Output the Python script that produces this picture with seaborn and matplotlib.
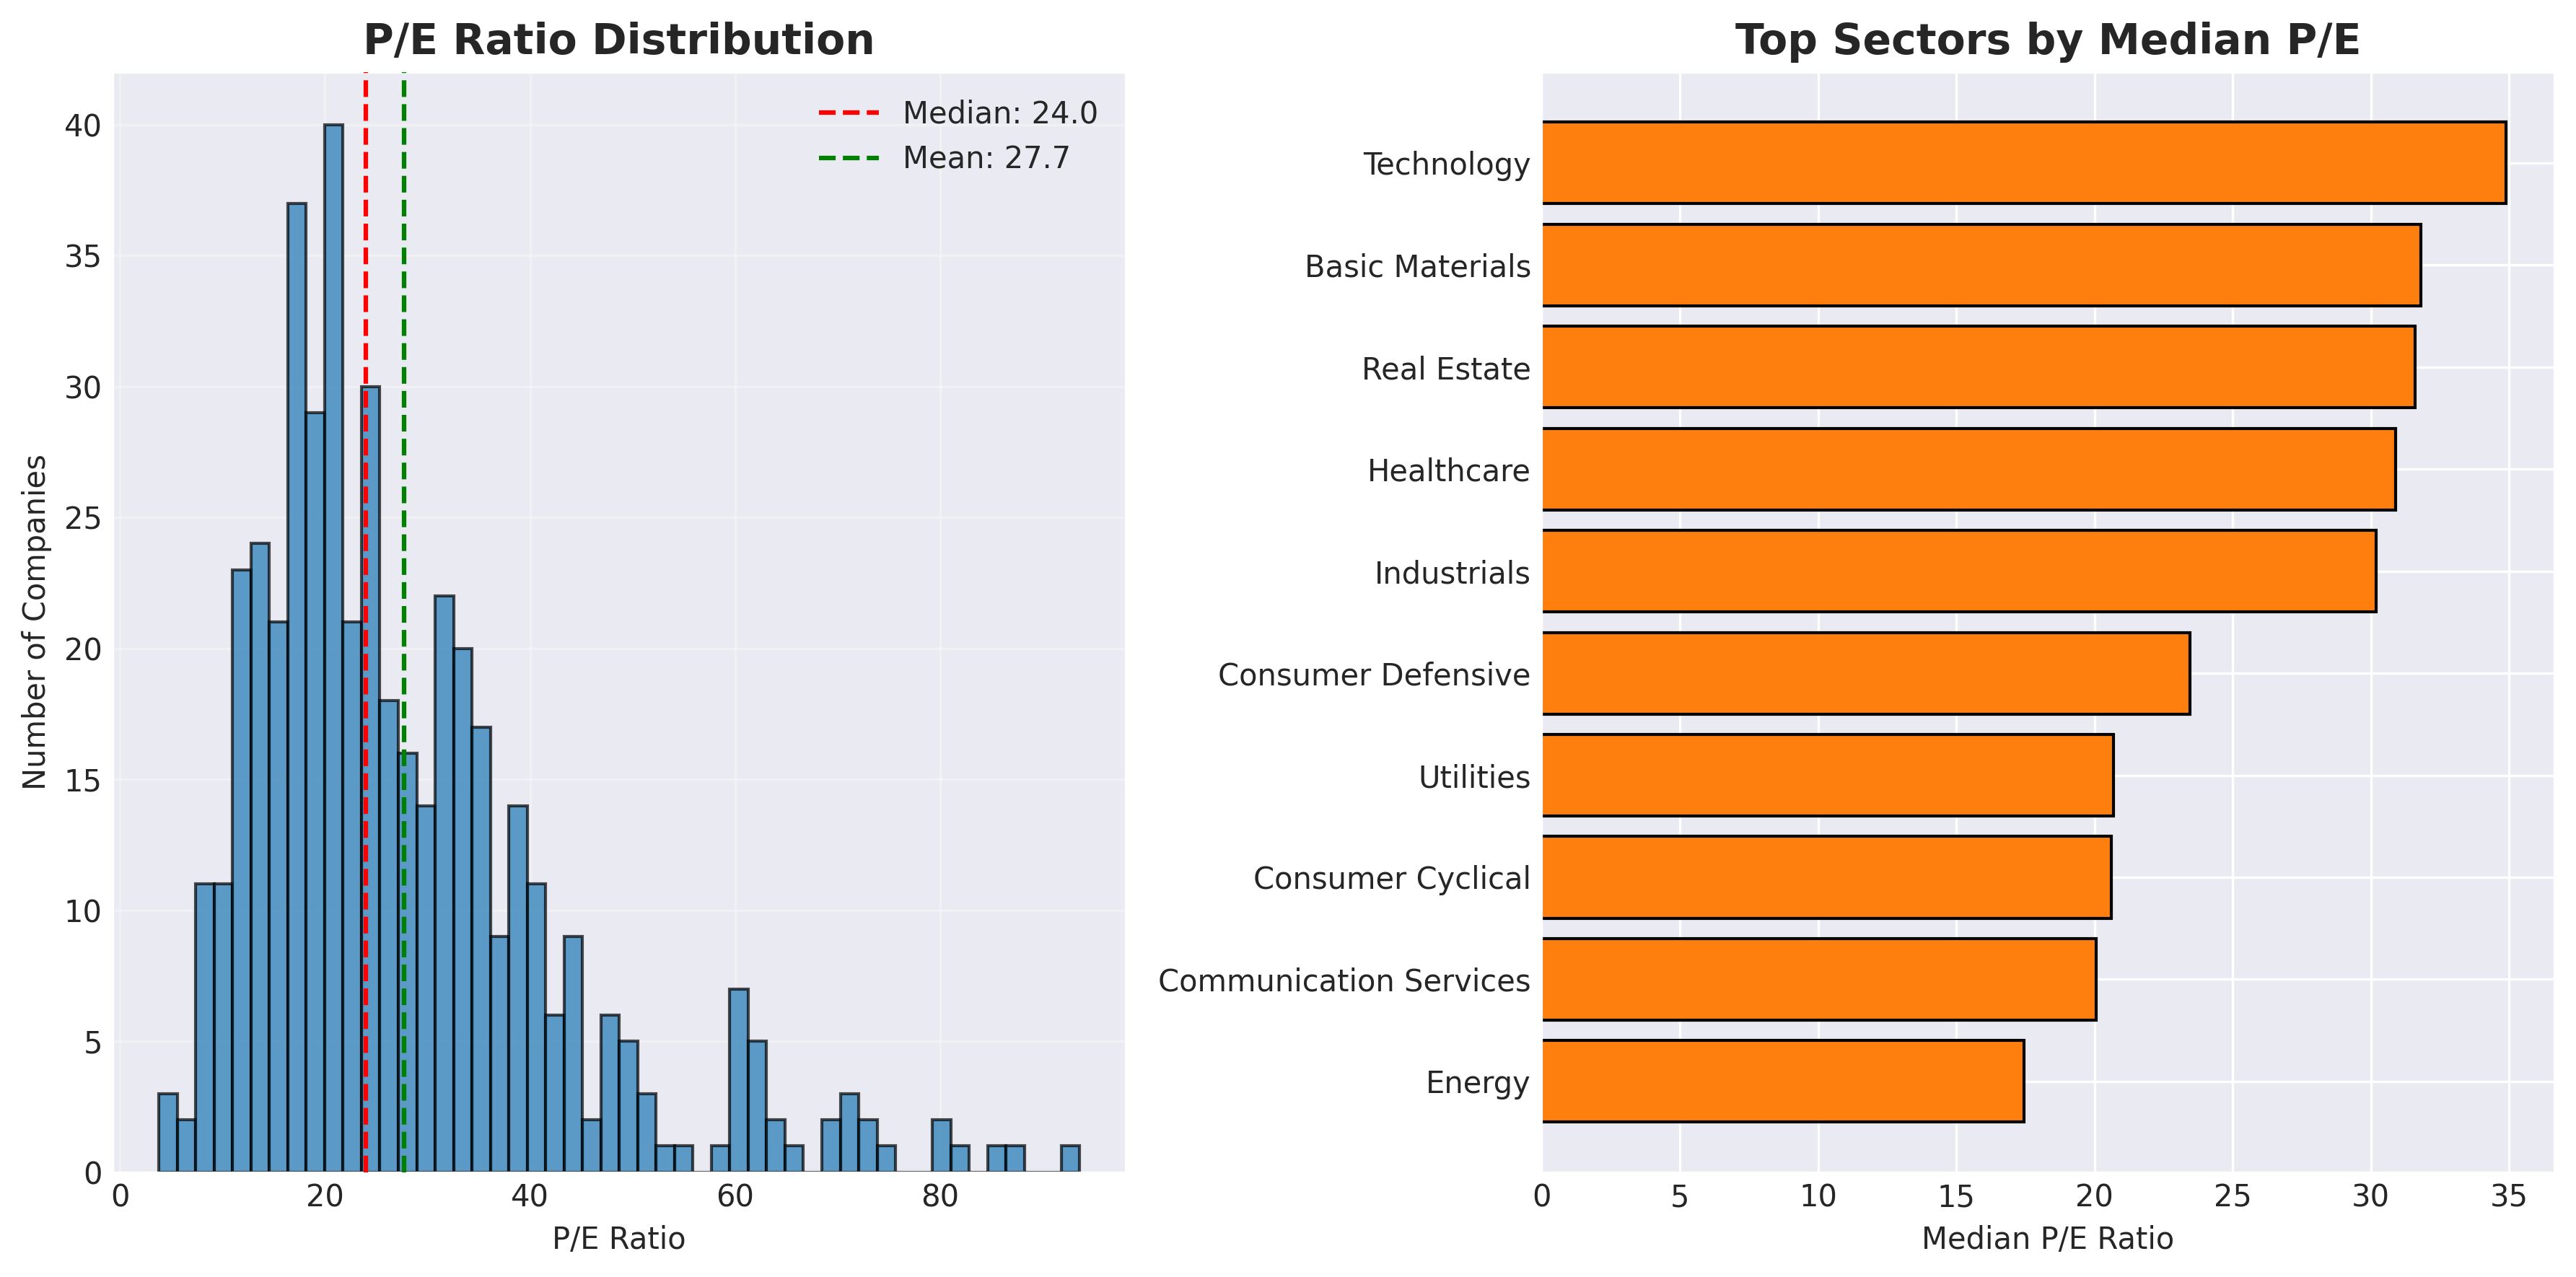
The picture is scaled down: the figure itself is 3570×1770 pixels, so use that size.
import numpy as np
import pandas as pd
import matplotlib
matplotlib.use("Agg")
import matplotlib.pyplot as plt
import seaborn as sns

# histogram of P/E ratios, counts read per bin (50 bins)
pe_min = 3.8
pe_max = 93.6
pe_counts = [3, 2, 11, 11, 23, 24, 21, 37, 29, 40,
             21, 30, 18, 16, 14, 22, 20, 17, 9, 14,
             11, 6, 9, 2, 6, 5, 3, 1, 1, 0,
             1, 7, 5, 2, 1, 0, 2, 3, 2, 1,
             0, 0, 2, 1, 0, 1, 1, 0, 0, 1]
pe_median = 24.0
pe_mean = 27.7

sectors = ["Technology", "Basic Materials", "Real Estate", "Healthcare",
           "Industrials", "Consumer Defensive", "Utilities",
           "Consumer Cyclical", "Communication Services", "Energy"]
sector_median_pe = [34.9, 31.8, 31.6, 30.9, 30.2, 23.45, 20.7, 20.6, 20.05, 17.45]

sns.set_style("darkgrid")
plt.rcParams["font.family"] = ["DejaVu Sans"]
plt.rcParams["xtick.major.size"] = 0
plt.rcParams["ytick.major.size"] = 0

fig, axes = plt.subplots(1, 2, figsize=(12, 6))

# left: distribution
ax = axes[0]
nbins = len(pe_counts)
edges = np.linspace(pe_min, pe_max, nbins + 1)
hist_df = pd.DataFrame({"pe": (edges[:-1] + edges[1:]) / 2, "n": pe_counts})
sns.histplot(data=hist_df, x="pe", weights="n", bins=nbins,
             binrange=(pe_min, pe_max), ax=ax,
             color="#1f77b4", alpha=0.7, edgecolor=(0, 0, 0, 0.7), linewidth=1)
ax.axvline(pe_median, color="red", linestyle="--", linewidth=1.5, zorder=3,
           label=f"Median: {pe_median:.1f}")
ax.axvline(pe_mean, color="green", linestyle="--", linewidth=1.5, zorder=3,
           label=f"Mean: {pe_mean:.1f}")
ax.set_title("P/E Ratio Distribution", fontsize=14, fontweight="bold")
ax.set_xlabel("P/E Ratio")
ax.set_ylabel("Number of Companies")
ax.legend(frameon=False)
ax.grid(True, alpha=0.3)

# right: sectors
ax = axes[1]
sns.barplot(x=sector_median_pe, y=sectors, orient="h", ax=ax,
            color="#ff7f0e", saturation=1, edgecolor="black", linewidth=1)
n = len(sectors)
pad = 0.05 * (n - 1 + 0.8)
ax.set_ylim(n - 1 + 0.4 + pad, -0.4 - pad)
ax.yaxis.grid(True)
ax.xaxis.grid(True)
ax.set_axisbelow(True)
ax.set_title("Top Sectors by Median P/E", fontsize=14, fontweight="bold")
ax.set_xlabel("Median P/E Ratio")
ax.set_ylabel("")

plt.tight_layout()
plt.savefig("out.png", dpi=300, bbox_inches="tight")
